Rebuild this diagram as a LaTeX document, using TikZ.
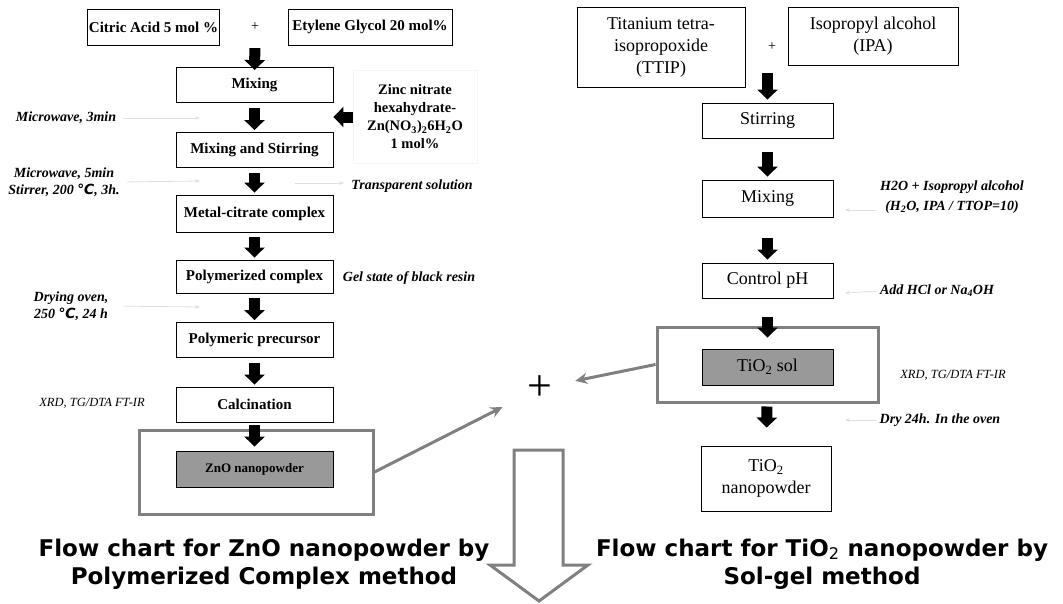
\documentclass[tikz,border=0pt]{standalone}
\usepackage{fontspec}
\setmainfont{Liberation Serif}
\newfontfamily\titlefont{DejaVu Sans}
\newfontfamily\degfont{DejaVu Sans}
\usetikzlibrary{arrows.meta}

\definecolor{framegray}{gray}{0.5}
\definecolor{solgray}{gray}{0.6}
\newcommand{\dgc}{{\degfont ℃}}

\begin{document}
\begin{tikzpicture}
[x=1pt,y=-1pt,%
  every node/.style={inner sep=1pt},%
  box/.style={draw,line width=0.9pt,minimum width=157pt,minimum height=35pt,font=\fontsize{15}{17}\selectfont\bfseries},%
  rbox/.style={draw,line width=0.9pt,minimum width=131pt,minimum height=35pt,align=center,font=\fontsize{18}{22}\selectfont},%
  big/.style={draw=framegray,line width=3pt},%
  note/.style={align=center,font=\fontsize{14}{17}\selectfont\bfseries\itshape},%
  thin note/.style={font=\fontsize{12.5}{15}\selectfont\itshape},%
  blk/.style={line width=11pt,-{Triangle[width=20pt,length=10pt]},shorten <=5pt,shorten >=2pt},%
  faint/.style={gray!25,line width=0.8pt,-{Stealth[length=5pt]}},%
  link/.style={framegray,line width=3pt,-{Stealth[length=12pt,width=11pt]}}]
\useasboundingbox (0,0) rectangle (1063,603);

% ZnO by polymerized complex
\node[box,minimum width=131pt,minimum height=36pt] (ca) at (153.5,27) {Citric Acid 5 mol \%};
\node[font=\fontsize{14}{16}\selectfont] (plusA) at (255,27) {+};
\node[box,minimum width=164pt,minimum height=36pt] (eg) at (370,27) {Etylene Glycol 20 mol\%};
\node[box] (mix) at (254.5,85) {Mixing};
\node[box] (mixst) at (254.5,150) {Mixing and Stirring};
\node[box,minimum height=37pt] (metal) at (254.5,213.5) {Metal-citrate complex};
\node[box,minimum height=33pt] (polyc) at (254.5,276.5) {Polymerized complex};
\node[box] (polyp) at (254.5,340) {Polymeric precursor};
\node[box] (calc) at (254.5,404.5) {Calcination};
\node[big,minimum width=234pt,minimum height=84pt] (zbig) at (256,472) {};
\node[box,fill=solgray,minimum height=36pt,font=\fontsize{13}{15}\selectfont\bfseries] (zno) at (254.5,469) {ZnO nanopowder};
\node[draw=gray!8,minimum width=124pt,minimum height=93pt,align=center,font=\fontsize{14.5}{18}\selectfont\bfseries] (zinc) at (415,117)
  {Zinc nitrate\\hexahydrate-\\Zn(NO\textsubscript{3})\textsubscript{2}6H\textsubscript{2}O\\1 mol\%};

\draw[blk,shorten <=16pt,shorten >=-3pt] (plusA) -- (mix);
\path (mix) edge[blk] (mixst)
  (mixst) edge[blk] (metal)
  (metal) edge[blk] (polyc)
  (polyc) edge[blk] (polyp)
  (polyp) edge[blk] (calc)
  (calc) edge[blk,shorten <=3pt,shorten >=4pt] (zno);
\draw[blk,shorten <=0pt,shorten >=0pt] (zinc.west) -- (zinc.west -| mix.east);

\node[note] (mw1) at (66,118) {Microwave, 3min};
\node[note] (mw2) at (64,182) {Microwave, 5min\\Stirrer, 200 \dgc, 3h.};
\node[note] (dry) at (71,306) {Drying oven,\\250 \dgc, 24 h};
\node[thin note] (xrdz) at (92,403) {XRD, TG/DTA FT-IR};
\node[note] (trans) at (412,186) {Transparent solution};
\node[note] (gel) at (409,278) {Gel state of black resin};

% TiO2 by sol-gel
\node[rbox,minimum width=168pt,minimum height=80pt] (ttip) at (661,47) {Titanium tetra-\\isopropoxide\\(TTIP)};
\node[font=\fontsize{14}{16}\selectfont] (plusB) at (772,47) {+};
\node[rbox,minimum width=170pt,minimum height=58pt] (ipa) at (873,36) {Isopropyl alcohol\\(IPA)};
\node[rbox] (stir) at (767.5,120.5) {Stirring};
\node[rbox,minimum height=37pt] (rmix) at (767.5,198.5) {Mixing};
\node[rbox] (ctrl) at (767.5,280.5) {Control pH};
\node[big,minimum width=221pt,minimum height=75pt] (tbig) at (767.5,364.5) {};
\node[rbox,fill=solgray,minimum height=36pt] (tsol) at (767.5,367) {TiO\textsubscript{2} sol};
\node[rbox,minimum width=130pt,minimum height=65pt] (tnano) at (766,478.5) {TiO\textsubscript{2}\\nanopowder};

\draw[blk,shorten <=21pt,shorten >=3pt] (plusB.south -| stir.north) -- (stir);
\path (stir) edge[blk,shorten <=14pt,shorten >=3pt] (rmix)
  (rmix) edge[blk,shorten <=21pt,shorten >=3pt] (ctrl)
  (ctrl) edge[blk,shorten <=19pt,shorten >=11pt] (tsol)
  (tbig) edge[blk,shorten <=3pt,shorten >=18pt] (tnano);

\node[note,font=\fontsize{14}{20}\selectfont\bfseries\itshape] (h2o) at (952,197) {H2O + Isopropyl alcohol\\(H\textsubscript{2}O, IPA / TTOP=10)};
\node[note] (hcl) at (937,291) {Add HCl or Na\textsubscript{4}OH};
\node[thin note] (xrdt) at (953,375) {XRD, TG/DTA FT-IR};
\node[note] (dryt) at (940,420) {Dry 24h. In the oven};

% faint pointers
\coordinate (f1) at (200,118);
\coordinate (f2) at (200,181);
\coordinate (f3) at (200,307);
\coordinate (f4) at (295,183);
\coordinate (f5) at (845,210);
\coordinate (f6) at (845,293);
\coordinate (f7) at (845,420);
\path (mw1.east) edge[faint,shorten <=6pt] (f1)
  (mw2.east) edge[faint,shorten <=6pt] (f2)
  (dry.east) edge[faint,shorten <=14pt] (f3)
  (f4) edge[faint,shorten >=6pt] (trans.west |- f4)
  (h2o.west |- f5) edge[faint,shorten <=3pt] (f5)
  (hcl.west) edge[faint,shorten <=3pt] (f6)
  (dryt.west) edge[faint,shorten <=3pt] (f7);

% combining both
\node[font=\fontsize{44}{44}\selectfont] (plusC) at (540,388) {+};
\path (zbig.east) edge[link,shorten >=42pt] (plusC.center)
  (tbig.west) edge[link,shorten >=36pt] (plusC.center);
\draw[big,fill=white] (514,450) -- (563,450) -- (563,565) -- (588,565) -- (539,601) -- (490,565) -- (514,565) -- cycle;

\node[align=center,font=\titlefont\bfseries\fontsize{23}{28}\selectfont] (ttlz) at (264,564) {Flow chart for ZnO nanopowder by\\Polymerized Complex method};
\node[align=center,font=\titlefont\bfseries\fontsize{23}{28}\selectfont] (ttlt) at (822,564) {Flow chart for TiO\textsubscript{\mdseries 2} nanopowder by\\Sol-gel method};
\end{tikzpicture}
\end{document}
